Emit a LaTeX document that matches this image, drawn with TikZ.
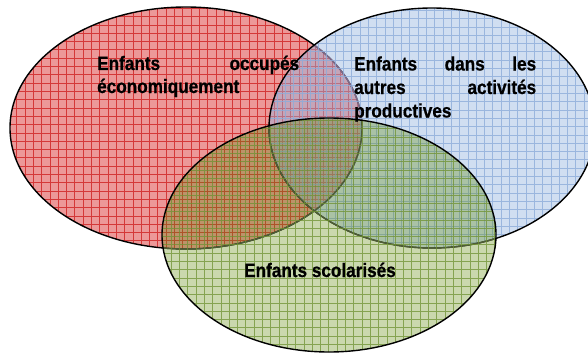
\documentclass[tikz,border=0pt]{standalone}
\usepackage{fontspec}
\setmainfont{Liberation Sans}[FakeStretch=0.88, BoldFeatures={FakeBold=0.6}]
\definecolor{redfill}{RGB}{236,152,152}
\definecolor{redgrid}{RGB}{205,25,25}
\definecolor{bluefill}{RGB}{150,182,224}
\definecolor{bluegrid}{RGB}{140,172,218}
\definecolor{greenfill}{RGB}{95,138,10}
\definecolor{greengrid}{RGB}{110,145,50}
\definecolor{dimpurple}{RGB}{125,105,135}
\definecolor{dimgreen}{RGB}{78,92,55}
\tikzset{
  vennline/.style={line width=1.4pt, draw=black},
  gridlines/.style={line width=0.6pt},
  lbl/.style={anchor=base west, inner sep=0pt, font=\fontsize{19.5}{23}\selectfont\bfseries},
}
\begin{document}
\begin{tikzpicture}[x=1pt,y=-1pt]
\useasboundingbox (0,0) rectangle (588,353);
\clip (0,0) rectangle (588,353);
% red ellipse
\fill[redfill] (186,128) ellipse [x radius=176pt, y radius=121pt];
\begin{scope}
  \clip (186,128) ellipse [x radius=176pt, y radius=121pt];
  \draw[gridlines, redgrid, opacity=0.75, step=8.3pt] (-10pt,-360pt) grid (600pt,10pt);
\end{scope}
\draw[vennline] (186,128) ellipse [x radius=176pt, y radius=121pt];
% blue ellipse
\fill[bluefill, fill opacity=0.45] (432,128) ellipse [x radius=163pt, y radius=120pt];
\begin{scope}
  \clip (432,128) ellipse [x radius=163pt, y radius=120pt];
  \draw[line width=1.4pt, dimpurple] (186,128) ellipse [x radius=176pt, y radius=121pt];
  \draw[gridlines, bluegrid, opacity=0.8, step=8.3pt, shift={(3pt,-2pt)}] (-10pt,-360pt) grid (600pt,10pt);
\end{scope}
\draw[vennline] (432,128) ellipse [x radius=163pt, y radius=120pt];
% green ellipse
\fill[greenfill, fill opacity=0.33] (329,235) ellipse [x radius=167pt, y radius=117pt];
\begin{scope}
  \clip (329,235) ellipse [x radius=167pt, y radius=117pt];
  \draw[line width=1.4pt, dimgreen] (186,128) ellipse [x radius=176pt, y radius=121pt];
  \draw[line width=1.4pt, dimgreen] (432,128) ellipse [x radius=163pt, y radius=120pt];
  \draw[gridlines, greengrid, opacity=0.75, step=8.3pt, shift={(5pt,-4pt)}] (-20pt,-370pt) grid (600pt,10pt);
\end{scope}
\draw[vennline] (329,235) ellipse [x radius=167pt, y radius=117pt];
% labels
\node[lbl] (r1) at (97,70) {\hbox to 202pt{Enfants\hfill occupés}};
\node[lbl] (r2) at (97,93) {économiquement};
\node[lbl] (b1) at (354,70.5) {\hbox to 182pt{Enfants\hfill dans\hfill les}};
\node[lbl] (b2) at (354,94) {\hbox to 182pt{autres\hfill activités}};
\node[lbl] (b3) at (354,117.5) {productives};
\node[lbl, anchor=base] (g1) at (320,277) {Enfants scolarisés};
\end{tikzpicture}
\end{document}
